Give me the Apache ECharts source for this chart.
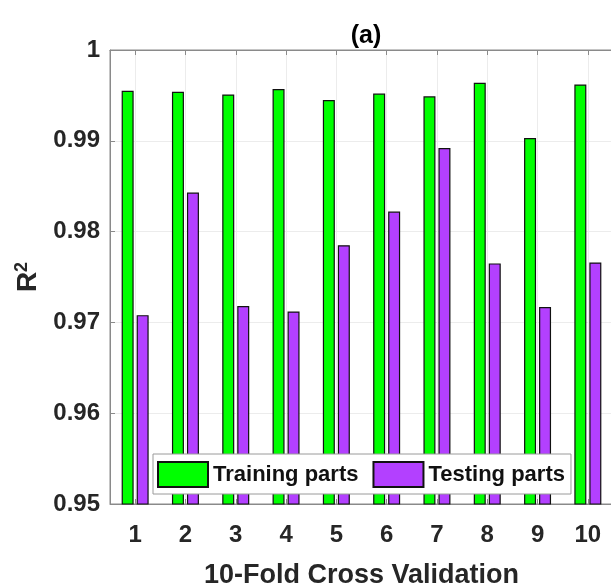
<!DOCTYPE html>
<html>
<head>
<meta charset="utf-8">
<script src="https://cdn.jsdelivr.net/npm/echarts@6/dist/echarts.min.js"></script>
<style>
html,body{margin:0;padding:0;background:#fff;}
#c{width:611px;height:588px;}
</style>
</head>
<body>
<div id="c"></div>
<script>
const categories = ['1','2','3','4','5','6','7','8','9','10'];
const trainingValues = [0.9955, 0.9954, 0.9951, 0.9957, 0.9945, 0.9952, 0.9949, 0.9964, 0.9903, 0.9962];
const testingValues  = [0.9708, 0.9843, 0.9718, 0.9712, 0.9785, 0.9822, 0.9892, 0.9765, 0.9717, 0.9766];
const yTicks = [0.95, 0.96, 0.97, 0.98, 0.99, 1];
const seriesNames = ['Training parts', 'Testing parts'];

const FONT = 'Liberation Sans, Arial, Helvetica, sans-serif';
const chart = echarts.init(document.getElementById('c'), null, {renderer: 'canvas'});
const axisGray = '#8a8a8a';
const textDark = '#262626';

chart.setOption({
  animation: false,
  backgroundColor: '#fff',
  title: {
    text: '(a)',
    left: 361, textAlign: 'center', top: 19,
    textStyle: {fontFamily: FONT, fontWeight: 'bold', fontSize: 25, color: '#000'}
  },
  grid: {left: 110, top: 50, width: 503, height: 454, show: true, borderColor: axisGray, borderWidth: 1,
         containLabel: false, outerBoundsMode: 'none'},
  legend: {
    data: seriesNames,
    left: 153, top: 454,
    orient: 'horizontal',
    itemWidth: 50, itemHeight: 25, itemGap: 14,
    padding: [7, 6, 6, 4],
    backgroundColor: '#fff',
    borderColor: '#9a9a9a', borderWidth: 1,
    textStyle: {fontFamily: FONT, fontWeight: 'bold', fontSize: 22, color: '#111'},
    icon: 'rect'
  },
  xAxis: [{
    type: 'category',
    data: categories,
    position: 'bottom',
    name: '10-Fold Cross Validation',
    nameLocation: 'middle',
    nameGap: 58,
    nameTextStyle: {fontFamily: FONT, fontWeight: 'bold', fontSize: 27, color: textDark},
    axisLine: {show: true, lineStyle: {color: axisGray, width: 1}},
    axisTick: {show: true, inside: true, alignWithLabel: true, length: 5, lineStyle: {color: axisGray}},
    axisLabel: {fontFamily: FONT, fontWeight: 'bold', fontSize: 24, color: textDark, margin: 19},
    splitLine: {show: true, alignWithLabel: true, lineStyle: {color: '#ececec', width: 1}}
  }, {
    type: 'category',
    data: categories,
    position: 'top',
    axisLine: {show: true, lineStyle: {color: axisGray, width: 1}},
    axisTick: {show: true, inside: true, alignWithLabel: true, length: 5, lineStyle: {color: axisGray}},
    axisLabel: {show: false},
    splitLine: {show: false}
  }],
  yAxis: {
    type: 'value',
    min: yTicks[0], max: yTicks[yTicks.length - 1], interval: 0.01,
    name: '{r|R}{s|2}',
    nameLocation: 'middle',
    nameRotate: 90,
    nameGap: 64,
    nameTextStyle: {
      fontFamily: FONT, fontWeight: 'bold', color: textDark,
      rich: {
        r: {fontFamily: FONT, fontWeight: 'bold', fontSize: 28, color: textDark, lineHeight: 30},
        s: {fontFamily: FONT, fontWeight: 'bold', fontSize: 18, color: textDark, lineHeight: 16, verticalAlign: 'top'}
      }
    },
    axisLine: {show: true, lineStyle: {color: axisGray, width: 1}},
    axisTick: {show: true, inside: true, length: 5, lineStyle: {color: axisGray}},
    axisLabel: {
      fontFamily: FONT, fontWeight: 'bold', fontSize: 24, color: textDark, margin: 10,
      formatter: v => String(Number(v.toFixed(2)))
    },
    splitLine: {show: true, lineStyle: {color: '#ececec', width: 1}}
  },
  series: [{
    name: seriesNames[0], type: 'bar', data: trainingValues,
    barWidth: 12, barGap: '25%',
    itemStyle: {color: '#00ff00', borderColor: '#111', borderWidth: 1.2}
  }, {
    name: seriesNames[1], type: 'bar', data: testingValues,
    barWidth: 12, barGap: '25%',
    itemStyle: {color: '#b340ff', borderColor: '#111', borderWidth: 1.2}
  }]
});
</script>
</body>
</html>
